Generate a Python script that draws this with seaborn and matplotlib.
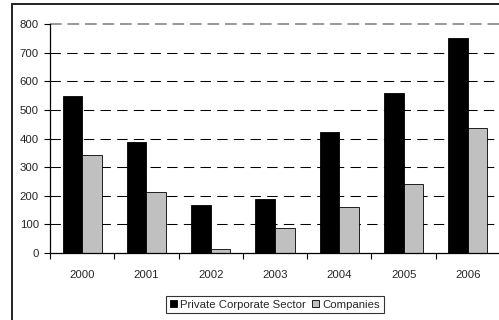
import matplotlib
matplotlib.use("Agg")
import matplotlib.pyplot as plt
from matplotlib.patches import Rectangle, Patch
from matplotlib.ticker import FixedLocator, NullFormatter
import seaborn as sns
import pandas as pd

years = ["2000", "2001", "2002", "2003", "2004", "2005", "2006"]
private_corporate = [550, 387, 167, 188, 422, 561, 752]
companies = [342, 215, 13, 88, 162, 243, 436]
series_names = ["Private Corporate Sector", "Companies"]
y_ticks = [0, 100, 200, 300, 400, 500, 600, 700, 800]

df = pd.DataFrame({
    "year": years * 2,
    "value": private_corporate + companies,
    "series": [series_names[0]] * len(years) + [series_names[1]] * len(years),
})

sns.set_theme(style="white")
plt.rcParams["font.family"] = ["Liberation Sans", "DejaVu Sans"]

W, H = 499, 320
fig = plt.figure(figsize=(W / 100, H / 100), dpi=100)
ax = fig.add_axes([50 / W, 1 - 253 / H, 450 / W, (253 - 24.3) / H])

colors = ["#000000", "#c0c0c0"]
sns.barplot(data=df, x="year", y="value", hue="series", palette=colors,
            width=0.61, gap=0, edgecolor="black", linewidth=0.6,
            saturation=1, ax=ax, legend=False)

ax.set_xlim(-0.5, 6.5)
ax.set_ylim(0, 800)
ax.set_xlabel("")
ax.set_ylabel("")

# dashed horizontal gridlines
for v in y_ticks[1:-1]:
    ax.axhline(v, color="black", lw=0.75, ls=(0, (10, 6)), zorder=0)
ax.axhline(800, color="#999999", lw=1.4, ls=(0, (6, 3)), zorder=0, clip_on=False)

for side in ["top", "right"]:
    ax.spines[side].set_visible(False)
for side in ["left", "bottom"]:
    ax.spines[side].set_color("black")
    ax.spines[side].set_linewidth(0.9)

ax.set_yticks(y_ticks)
ax.tick_params(axis="y", which="major", direction="out", length=4, width=0.8,
               color="black", labelsize=8.2, pad=4, left=True)
ax.tick_params(axis="x", which="major", length=0, labelsize=8.2, pad=12)
ax.xaxis.set_minor_locator(FixedLocator([i - 0.5 for i in range(len(years) + 1)]))
ax.xaxis.set_minor_formatter(NullFormatter())
ax.tick_params(axis="x", which="minor", direction="out", length=4, width=0.8,
               color="black", bottom=True)

# outer chart frame
fig.patches.append(Rectangle((11.7 / W, -0.2), 1.5, 1.2 - 3.6 / H,
                             transform=fig.transFigure, fill=False,
                             edgecolor="#111111", lw=1.3, zorder=5))

handles = [Patch(facecolor=c, edgecolor="black", linewidth=0.6) for c in colors]
leg = fig.legend(handles, series_names, loc="center",
                 bbox_to_anchor=(275 / W, 1 - 304.5 / H), ncol=2,
                 fontsize=8.2, frameon=True, fancybox=False, shadow=False,
                 handlelength=0.65, handleheight=0.65, handletextpad=0.3,
                 columnspacing=0.5, borderpad=0.35, borderaxespad=0)
leg.get_frame().set_edgecolor("black")
leg.get_frame().set_linewidth(0.8)

fig.savefig("out.png", dpi=100)
